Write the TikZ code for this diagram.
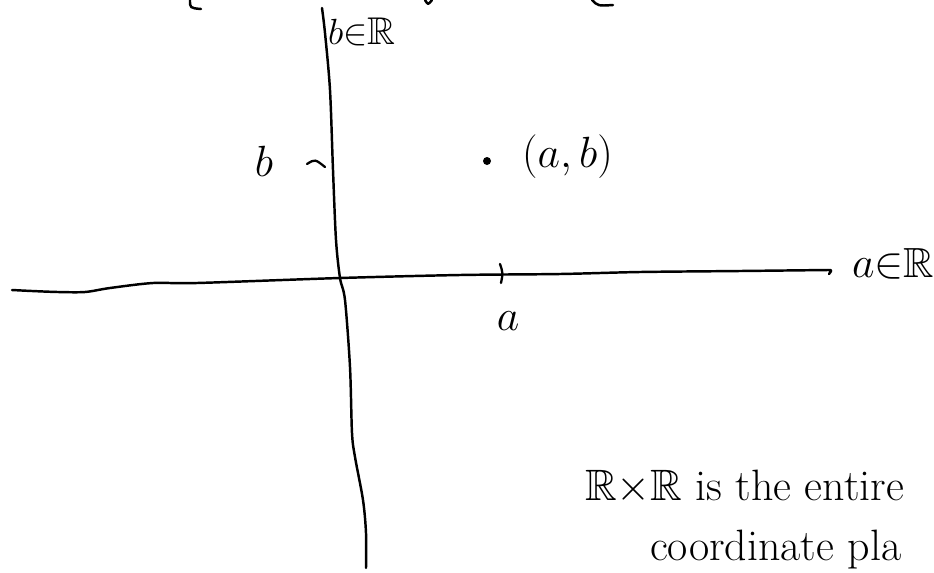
\documentclass[tikz,border=0pt]{standalone}
\usepackage{amsmath,amssymb}
\usepackage{tikz}
\usetikzlibrary{positioning}

\begin{document}
\begin{tikzpicture}[x=.02cm,y=-.02cm,
 ink/.style={line width=1.4pt,draw=black,line cap=round,line join=round},
 tick/.style={line width=1.3pt,draw=black,line cap=round},
 every node/.style={font=\fontsize{24}{28}\selectfont,inner sep=1pt}]
\useasboundingbox (0,0) rectangle (934,572);
\draw[ink] plot[smooth] coordinates {(322,8)(325,33)(330,90)(333,170)(336,240)(340,278)(345,300)(350,367)(352,433)(355,457)(363,500)(366,533)(366,568)};
\draw[ink] plot[smooth] coordinates {(12,290)(32,291)(58,292)(85,292)(110,288)(153,283)(197,283)(340,278)(460,275)(560,274)(640,272)(740,271)(828,270)};
\draw[ink] (828,270) .. controls (832,270) .. (829,274);
\draw[tick] (307,164) .. controls (315,159) .. (325,167);
\draw[tick] (500,264) .. controls (503,273) .. (501,283);
\fill (487,161) circle (4);
\node[anchor=base west,font=\fontsize{22}{26}\selectfont] (bR) at (326,44) {$b{\in}\mathbb{R}$};
\node[anchor=base west] (aR) at (850,277) {$a{\in}\mathbb{R}$};
\node[anchor=base] (bl) at (264,176) {$b$};
\node[anchor=base] (al) at (508,330) {$a$};
\node[anchor=west] (pt) at (520,157) {$(a,b)$};
\node[anchor=base west,font=\fontsize{25}{28}\selectfont] (l1) at (583,500) {$\mathbb{R}{\times}\mathbb{R}$ is the entire};
\node[anchor=base west,font=\fontsize{25}{28}\selectfont] (l2) at (648,560) {coordinate pla};
\draw[ink] (190,0) .. controls (190,8) .. (201,9);
\draw[ink] (425,0) .. controls (428,5) .. (432,0);
\draw[ink] (592,0) .. controls (598,6) .. (613,5);
\end{tikzpicture}
\end{document}
